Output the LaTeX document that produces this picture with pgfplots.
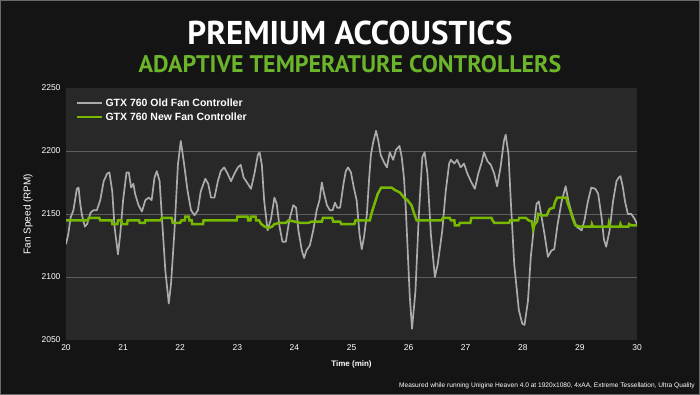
\documentclass[border=0pt]{standalone}
\usepackage{fontspec}
\setmainfont{Liberation Sans}
\newfontfamily\titlefont{PT Sans}
\usepackage{pgfplots}
\pgfplotsset{compat=1.18}
\definecolor{bgc}{HTML}{141414}
\definecolor{plotbg}{HTML}{282828}
\definecolor{gridc}{HTML}{5E5E5E}
\definecolor{oldc}{HTML}{ABABAB}
\definecolor{newc}{HTML}{76B900}
\definecolor{subc}{HTML}{6CB52B}
\definecolor{framec}{HTML}{6A6A6A}
\pgfplotstableread{
t rpm
20.00 2126
20.04 2134
20.08 2147
20.13 2153
20.19 2170
20.22 2171
20.25 2158
20.28 2149
20.33 2140
20.37 2142
20.43 2151
20.48 2153
20.54 2153
20.60 2161
20.66 2176
20.72 2182
20.76 2183
20.81 2168
20.85 2140
20.91 2118
20.95 2134
21.00 2161
21.06 2183
21.10 2183
21.14 2171
21.18 2174
21.21 2166
21.27 2157
21.33 2152
21.39 2161
21.45 2163
21.50 2161
21.55 2179
21.59 2184
21.64 2176
21.68 2147
21.74 2105
21.80 2079
21.84 2095
21.90 2137
21.96 2189
22.01 2208
22.07 2189
22.13 2168
22.19 2153
22.25 2149
22.31 2153
22.36 2168
22.44 2178
22.49 2174
22.54 2163
22.60 2163
22.66 2176
22.71 2184
22.77 2187
22.83 2182
22.89 2176
22.95 2182
23.01 2187
23.06 2189
23.11 2179
23.17 2175
23.24 2170
23.30 2182
23.36 2197
23.39 2199
23.43 2189
23.47 2161
23.53 2137
23.59 2146
23.65 2163
23.69 2158
23.74 2140
23.79 2128
23.85 2128
23.91 2145
23.98 2157
24.03 2155
24.07 2137
24.13 2121
24.17 2115
24.21 2121
24.27 2125
24.33 2137
24.39 2153
24.44 2161
24.48 2175
24.52 2166
24.57 2157
24.62 2153
24.67 2153
24.71 2159
24.75 2155
24.80 2155
24.86 2174
24.90 2184
24.94 2187
24.99 2183
25.04 2171
25.09 2161
25.14 2134
25.18 2122
25.22 2132
25.27 2150
25.31 2179
25.34 2197
25.38 2207
25.43 2216
25.47 2208
25.51 2197
25.57 2191
25.62 2187
25.67 2199
25.73 2193
25.78 2201
25.84 2204
25.88 2195
25.92 2178
25.95 2155
25.98 2125
26.02 2085
26.06 2059
26.12 2089
26.18 2150
26.24 2195
26.28 2199
26.33 2182
26.39 2134
26.46 2100
26.51 2110
26.59 2137
26.65 2168
26.71 2190
26.74 2193
26.80 2190
26.85 2193
26.91 2187
26.97 2190
27.03 2182
27.09 2176
27.16 2170
27.22 2182
27.28 2191
27.32 2199
27.38 2192
27.44 2189
27.50 2182
27.55 2172
27.61 2187
27.67 2208
27.70 2213
27.75 2197
27.79 2160
27.85 2110
27.93 2074
27.99 2063
28.03 2062
28.09 2081
28.14 2116
28.20 2142
28.24 2158
28.28 2160
28.32 2150
28.38 2134
28.44 2116
28.50 2121
28.55 2122
28.61 2142
28.68 2160
28.75 2172
28.80 2160
28.86 2150
28.94 2140
29.03 2137
29.08 2145
29.14 2160
29.20 2171
29.27 2170
29.32 2166
29.38 2147
29.42 2130
29.46 2124
29.52 2137
29.58 2160
29.64 2176
29.68 2179
29.71 2180
29.75 2172
29.79 2160
29.84 2150
29.90 2150
29.96 2146
30.00 2142
}\olddata
\pgfplotstableread{
t rpm
20.00 2145
20.38 2145
20.40 2147
20.58 2147
20.60 2145
20.80 2145
20.81 2142
20.90 2142
20.91 2145
20.97 2145
20.98 2142
21.07 2142
21.08 2145
21.28 2145
21.29 2143
21.38 2143
21.39 2145
21.66 2145
21.68 2147
21.85 2147
21.87 2143
22.00 2143
22.02 2145
22.08 2145
22.09 2148
22.15 2148
22.16 2145
22.20 2145
22.21 2142
22.40 2142
22.41 2145
22.99 2145
23.00 2148
23.18 2148
23.19 2145
23.23 2145
23.24 2148
23.32 2148
23.33 2145
23.38 2145
23.42 2142
23.48 2140
23.55 2139
23.61 2140
23.65 2142
23.75 2143
23.85 2143
23.90 2145
24.00 2144
24.10 2143
24.25 2143
24.30 2144
24.48 2144
24.50 2147
24.66 2147
24.68 2144
24.80 2144
24.82 2142
25.05 2142
25.07 2145
25.32 2145
25.36 2152
25.41 2159
25.46 2166
25.52 2171
25.70 2171
25.76 2169
25.85 2167
25.92 2163
25.98 2161
26.05 2157
26.10 2150
26.14 2145
26.58 2145
26.60 2147
26.72 2147
26.74 2145
26.80 2145
26.81 2141
26.88 2141
26.90 2143
27.08 2143
27.10 2147
27.45 2147
27.47 2145
27.50 2143
27.76 2143
27.78 2145
27.92 2145
27.94 2147
28.05 2147
28.10 2145
28.16 2144
28.18 2138
28.21 2142
28.25 2144
28.27 2150
28.32 2149
28.42 2149
28.47 2154
28.54 2155
28.56 2159
28.60 2163
28.76 2163
28.79 2158
28.83 2153
28.87 2147
28.92 2141
29.00 2140
29.20 2140
29.21 2142
29.23 2140
29.50 2140
29.51 2143
29.53 2140
29.70 2140
29.71 2142
29.73 2140
29.85 2140
29.86 2142
29.90 2141
30.00 2141
}\newdata
\begin{document}
\begin{tikzpicture}[x=1pt,y=1pt]
\fill[bgc] (0,0) rectangle (700,395);
\draw[framec, line width=1pt] (0.5,0.5) rectangle (699.5,394.5);
\node[white, inner sep=0pt] at (350,362) {\titlefont\bfseries\fontsize{33}{33}\selectfont PREMIUM ACCOUSTICS};
\node[subc, inner sep=0pt] at (350,331) {\titlefont\bfseries\fontsize{24}{24}\selectfont ADAPTIVE TEMPERATURE CONTROLLERS};
\node[white, anchor=east, inner sep=0pt] at (695,9) {\fontsize{6.6}{7}\selectfont Measured while running Unigine Heaven 4.0 at 1920x1080, 4xAA, Extreme Tessellation, Ultra Quality};
\begin{axis}[
  at={(66pt,55pt)}, anchor=south west,
  scale only axis, width=571pt, height=252pt,
  xmin=20, xmax=30, ymin=2050, ymax=2250,
  axis background/.style={fill=plotbg},
  axis line style={draw=none},
  xtick={20,21,...,30}, ytick={2050,2100,...,2250},
  extra y ticks={2100,2150,2200},
  extra y tick style={grid=major, yticklabels={}},
  grid style={gridc, line width=0.8pt},
  tick style={draw=none},
  /pgf/number format/assume math mode=true,
  /pgf/number format/1000 sep={},
  ticklabel style={white, font=\fontsize{8.5}{9}\selectfont},
  yticklabel style={xshift=-2pt},
  xticklabel style={yshift=-1pt},
  xlabel={Time (min)}, ylabel={Fan Speed (RPM)},
  xlabel style={white, font=\bfseries\fontsize{8}{9}\selectfont, yshift=-3pt},
  ylabel style={white, font=\fontsize{10}{11}\selectfont, yshift=2pt},
  legend style={at={(0.012,0.975)}, anchor=north west, draw=none, fill=none,
    text=white, font=\bfseries\fontsize{10.5}{11}\selectfont, row sep=1pt},
  legend cell align=left,
  legend image code/.code={\draw[#1] (0pt,0pt) -- (25pt,0pt);},
]
\addplot[oldc, line width=1.7pt, line join=round] table[x=t,y=rpm]{\olddata};
\addlegendentry{GTX 760 Old Fan Controller}
\addplot[newc, line width=2.5pt] table[x=t,y=rpm]{\newdata};
\addlegendentry{GTX 760 New Fan Controller}
\end{axis}
\end{tikzpicture}
\end{document}
